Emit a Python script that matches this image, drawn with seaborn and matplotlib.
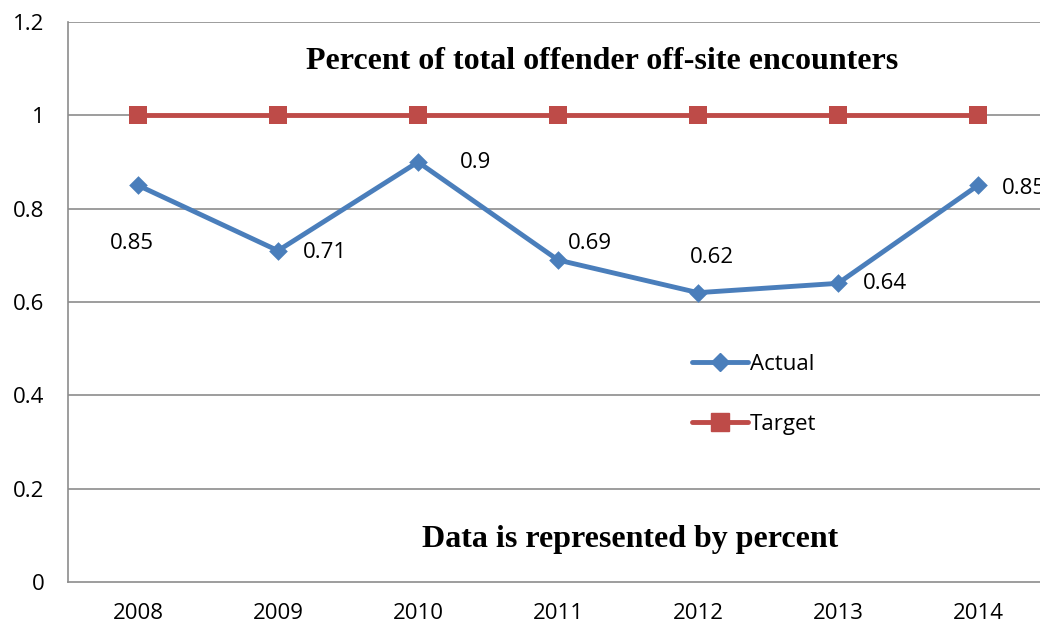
import matplotlib
matplotlib.use("Agg")
import matplotlib.pyplot as plt
from matplotlib.lines import Line2D
import seaborn as sns
import pandas as pd

years = ["2008", "2009", "2010", "2011", "2012", "2013", "2014"]
actual = [0.85, 0.71, 0.90, 0.69, 0.62, 0.64, 0.85]
target = [1, 1, 1, 1, 1, 1, 1]
y_ticks = [0, 0.2, 0.4, 0.6, 0.8, 1.0, 1.2]
y_tick_labels = ["0", "0.2", "0.4", "0.6", "0.8", "1", "1.2"]

sns.set_theme(style="white")
plt.rcParams["font.family"] = ["Open Sans", "DejaVu Sans"]
plt.rcParams["text.color"] = "black"
plt.rcParams["xtick.labelcolor"] = "black"
plt.rcParams["ytick.labelcolor"] = "black"

df = pd.DataFrame({
    "Year": years * 2,
    "Value": actual + target,
    "Series": ["Actual"] * len(years) + ["Target"] * len(years),
})

blue = "#4A7EBB"
red = "#BE4B48"
grid = "#8C8C8C"
lw = 3.5
d_size = 9.5
s_size = 13.5

fig = plt.figure(figsize=(10.4, 6.27), dpi=100)
ax = fig.add_axes([68 / 1040, 1 - 582 / 627, 980 / 1040, 560 / 627])

sns.lineplot(
    data=df, x="Year", y="Value", hue="Series",
    palette={"Actual": blue, "Target": red},
    dashes=False, linewidth=lw, sort=False, ax=ax, legend=False,
)
# markers drawn separately so the two shapes get their own sizes
sns.scatterplot(x=range(len(years)), y=actual, marker="D", s=d_size ** 2,
                color=blue, edgecolor=blue, linewidth=0, zorder=4, ax=ax)
sns.scatterplot(x=range(len(years)), y=target, marker="s", s=s_size ** 2,
                color=red, edgecolor=red, linewidth=0, zorder=4, ax=ax)

ax.set_xlim(-0.5, len(years) - 0.5)
ax.set_ylim(0, 1.2)
ax.set_yticks(y_ticks)
ax.set_yticklabels(y_tick_labels)
ax.set_xlabel("")
ax.set_ylabel("")

for y in y_ticks[1:]:
    ax.axhline(y, color=grid, linewidth=1.2, zorder=0)
ax.tick_params(axis="y", length=8, width=1.2, color=grid, direction="out",
               labelsize=16, pad=9, labelcolor="black")
ax.set_xticks(range(len(years)))
ax.set_xticklabels(years)
ax.set_xticks([i + 0.5 for i in range(-1, len(years))], minor=True)
ax.tick_params(axis="x", which="major", length=0, labelsize=16, pad=15,
               labelcolor="black")
ax.tick_params(axis="x", which="minor", length=8, width=1.2, color=grid,
               direction="out")

for side in ["top", "right"]:
    ax.spines[side].set_visible(False)
for side in ["left", "bottom"]:
    ax.spines[side].set_color(grid)
    ax.spines[side].set_linewidth(1.2)

# value labels for the Actual series (offsets in points from each marker)
offsets = [(-20, -42), (18, -1), (30, 0), (7, 12), (-6, 25), (18, 0), (17, -2)]
for i, (v, off) in enumerate(zip(actual, offsets)):
    ax.annotate(f"{v:g}", (i, v), xytext=off, textcoords="offset points",
                ha="left", va="center", fontsize=16, color="black",
                annotation_clip=False)

ax.text(0.545, 0.930, "Percent of total offender off-site encounters",
        transform=ax.transAxes, ha="center", va="center", color="black",
        fontfamily="Liberation Serif", fontweight="bold", fontsize=23)
ax.text(0.574, 0.075, "Data is represented by percent",
        transform=ax.transAxes, ha="center", va="center", color="black",
        fontfamily="Liberation Serif", fontweight="bold", fontsize=23)

handles = [
    Line2D([], [], color=blue, linewidth=lw, marker="D", markersize=d_size),
    Line2D([], [], color=red, linewidth=lw, marker="s", markersize=s_size),
]
ax.legend(handles, ["Actual", "Target"], loc="upper left",
          bbox_to_anchor=(672 / 1040, 1 - 334 / 627), bbox_transform=fig.transFigure,
          frameon=False, fontsize=16, handlelength=2.5, handletextpad=0.1,
          labelspacing=1.75, labelcolor="black")

fig.savefig("out.png", dpi=100)
